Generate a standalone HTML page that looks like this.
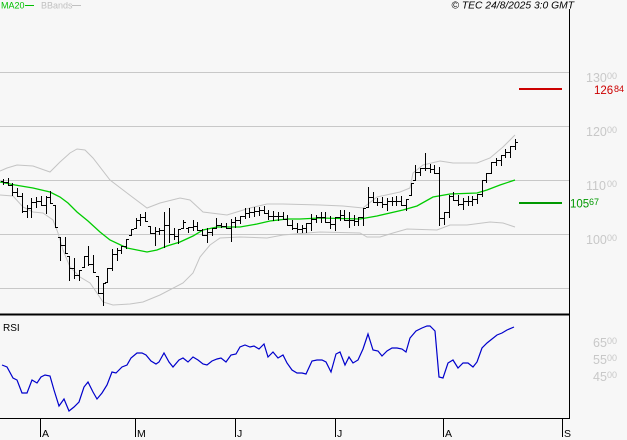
<!DOCTYPE html>
<html><head><meta charset="utf-8"><style>
html,body{margin:0;padding:0;background:#f7f7f7;}
svg{display:block;}
text{font-family:"Liberation Sans",sans-serif;}
</style></head><body>
<svg width="627" height="440" viewBox="0 0 627 440" xmlns="http://www.w3.org/2000/svg">
<rect x="0" y="0" width="627" height="440" fill="#f7f7f7"/>
<text x="1" y="8.5" font-size="9" fill="#00c000">MA20</text>
<line x1="25" y1="5.5" x2="34" y2="5.5" stroke="#00c000" stroke-width="1"/>
<text x="41" y="8.5" font-size="9" fill="#c0c0c0">BBands</text>
<line x1="72" y1="5.5" x2="81" y2="5.5" stroke="#c0c0c0" stroke-width="1"/>
<text x="574" y="8.5" font-size="10.3" font-style="italic" fill="#000" text-anchor="end">© TEC 24/8/2025 3:0 GMT</text>
<g stroke="#c8c8c8" stroke-width="1">
<line x1="0" y1="72.5" x2="569" y2="72.5"/>
<line x1="0" y1="126.5" x2="569" y2="126.5"/>
<line x1="0" y1="180.5" x2="569" y2="180.5"/>
<line x1="0" y1="234.5" x2="569" y2="234.5"/>
<line x1="0" y1="288.5" x2="569" y2="288.5"/>
</g>
<g fill="none" stroke="#c4c4c4" stroke-width="1">
<polyline points="0,171 7,168 17,165 33,166 50,172 60,162 70,153 77,149 85,150 93,158 110,180 127,193 147,208 160,203 180,198 190,200 203,212 227,215 250,208 267,204 283,204 320,205 343,206 363,208 377,197 400,192 410,188 413,173 423,165 440,161 453,163 477,163 490,158 503,147 515,135"/>
<polyline points="0,195 13,196 23,207 33,212 43,213 53,220 58,233 63,250 70,267 80,277 90,283 97,293 103,302 113,305 130,304 143,302 160,295 183,283 193,273 200,257 210,245 220,238 240,237 267,238 283,235 307,233 320,232 360,233 367,237 380,237 393,233 407,229 437,230 450,225 467,225 490,222 503,223 515,227"/>
</g>
<polyline fill="none" stroke="#00cc00" stroke-width="1.3" points="0,182 15,185 33,188 50,192 60,197 68,203 77,212 88,221 100,232 110,240 127,248 147,252 157,250 167,246 180,242 193,236 203,230 217,227 240,227 257,224 270,221 287,219 300,219 320,218 360,219 377,216 403,210 417,206 433,197 450,194 477,193 487,190 500,185 515,180"/>
<path fill="none" stroke="#000" stroke-width="1" d="M3.5 179V185M1 181.5h2M4 182.5h2M8.5 178V186M6 182.5h2M9 185.5h2M12.5 183V196M10 185.5h2M13 192.5h2M17.5 188V197M15 192.5h2M18 196.5h2M22.5 193V213M20 196.5h2M23 211.5h2M27.5 205V218M25 211.5h2M28 208.5h2M31.5 198V218M29 208.5h2M32 202.5h2M36.5 197V208M34 202.5h2M37 201.5h2M41.5 196V206M39 201.5h2M42 205.5h2M46.5 196V214M44 205.5h2M47 197.5h2M50.5 191V204M48 197.5h2M51 203.5h2M55.5 205V228M53 205.5h2M56 227.5h2M60.5 237V261M58 237.5h2M61 245.5h2M65.5 237V254M63 245.5h2M66 253.5h2M69.5 256V281M67 256.5h2M70 268.5h2M74.5 258V279M72 268.5h2M75 275.5h2M79.5 270V281M77 275.5h2M80 270.5h2M84.5 256V268M82 267.5h2M85 256.5h2M88.5 246V266M86 256.5h2M89 264.5h2M93.5 255V273M91 264.5h2M94 272.5h2M98.5 276V294M96 276.5h2M99 293.5h2M103.5 283V306M101 293.5h2M104 283.5h2M107.5 268V283M105 282.5h2M108 268.5h2M112.5 249V271M110 268.5h2M113 254.5h2M117.5 248V261M115 254.5h2M118 250.5h2M121.5 246V254M119 250.5h2M122 246.5h2M126.5 239V249M124 246.5h2M127 239.5h2M131.5 229V236M129 235.5h2M132 229.5h2M136.5 218V229M134 228.5h2M137 220.5h2M140.5 214V226M138 220.5h2M141 217.5h2M145.5 212V222M143 217.5h2M146 221.5h2M150.5 226V234M148 226.5h2M151 233.5h2M155.5 227V246M153 233.5h2M156 231.5h2M159.5 228V235M157 231.5h2M160 230.5h2M164.5 212V248M162 230.5h2M165 225.5h2M169.5 208V243M167 225.5h2M170 234.5h2M174.5 228V240M172 234.5h2M175 236.5h2M178.5 229V244M176 236.5h2M179 229.5h2M183.5 220V229M181 228.5h2M184 222.5h2M188.5 227V233M186 228.5h2M189 227.5h2M193.5 220V231M191 227.5h2M194 226.5h2M197.5 222V231M195 226.5h2M198 230.5h2M202.5 229V236M200 230.5h2M203 235.5h2M207.5 228V243M205 235.5h2M208 232.5h2M212.5 228V236M210 232.5h2M213 228.5h2M216.5 218V229M214 228.5h2M217 225.5h2M221.5 223V228M219 225.5h2M222 226.5h2M226.5 223V229M224 226.5h2M227 228.5h2M231.5 219V242M229 228.5h2M232 222.5h2M235.5 217V228M233 222.5h2M236 220.5h2M240.5 216V224M238 220.5h2M241 216.5h2M245.5 208V219M243 216.5h2M246 213.5h2M249.5 208V218M247 213.5h2M250 212.5h2M254.5 207V217M252 212.5h2M255 211.5h2M259.5 207V216M257 211.5h2M260 210.5h2M264.5 206V214M262 210.5h2M265 213.5h2M268.5 210V220M266 213.5h2M269 216.5h2M273.5 211V221M271 216.5h2M274 216.5h2M278.5 212V221M276 216.5h2M279 216.5h2M283.5 212V220M281 216.5h2M284 219.5h2M287.5 215V226M285 219.5h2M288 225.5h2M292.5 220V230M290 225.5h2M293 228.5h2M297.5 223V233M295 228.5h2M298 229.5h2M302.5 225V233M300 229.5h2M303 228.5h2M306.5 223V233M304 228.5h2M307 223.5h2M311.5 214V231M309 223.5h2M312 219.5h2M316.5 215V223M314 219.5h2M317 217.5h2M321.5 212V223M319 217.5h2M322 217.5h2M325.5 212V223M323 217.5h2M326 222.5h2M330.5 216V229M328 222.5h2M331 224.5h2M335.5 217V231M333 224.5h2M336 217.5h2M340.5 210V221M338 217.5h2M341 215.5h2M344.5 210V221M342 215.5h2M345 220.5h2M349.5 212V228M347 220.5h2M350 220.5h2M354.5 215V226M352 220.5h2M355 221.5h2M358.5 217V226M356 221.5h2M359 217.5h2M363.5 208V226M361 217.5h2M364 208.5h2M368.5 187V208M366 207.5h2M369 197.5h2M373.5 192V203M371 197.5h2M374 202.5h2M377.5 198V206M375 202.5h2M378 202.5h2M382.5 197V208M380 202.5h2M383 204.5h2M387.5 198V211M385 204.5h2M388 201.5h2M392.5 197V206M390 201.5h2M393 201.5h2M396.5 196V206M394 201.5h2M397 201.5h2M401.5 196V206M399 201.5h2M402 205.5h2M406.5 199V211M404 205.5h2M407 199.5h2M411.5 183V196M409 195.5h2M412 183.5h2M415.5 165V181M413 180.5h2M416 172.5h2M420.5 168V176M418 172.5h2M421 168.5h2M425.5 153V171M423 168.5h2M426 168.5h2M430.5 164V173M428 168.5h2M431 169.5h2M434.5 165V174M432 169.5h2M435 173.5h2M439.5 167V226M437 173.5h2M440 218.5h2M444.5 212V225M442 218.5h2M445 212.5h2M449.5 195V218M447 212.5h2M450 196.5h2M453.5 192V201M451 196.5h2M454 200.5h2M458.5 195V206M456 200.5h2M459 204.5h2M463.5 198V210M461 204.5h2M464 201.5h2M468.5 196V206M466 201.5h2M469 201.5h2M472.5 196V206M470 201.5h2M473 199.5h2M477.5 194V204M475 199.5h2M478 194.5h2M482.5 180V197M480 194.5h2M483 180.5h2M486.5 173V183M484 180.5h2M487 173.5h2M491.5 162V174M489 173.5h2M492 162.5h2M496.5 158V166M494 162.5h2M497 160.5h2M501.5 155V166M499 160.5h2M502 155.5h2M505.5 149V158M503 155.5h2M506 152.5h2M510.5 146V158M508 152.5h2M511 146.5h2M515.5 139V150M513 146.5h2M516 142.5h2"/>
<rect x="519" y="88" width="43" height="2" fill="#cc0000"/>
<rect x="519" y="202" width="43" height="2" fill="#009900"/>
<rect x="0" y="313.5" width="570" height="2" fill="#000"/>
<line x1="0" y1="418.5" x2="570" y2="418.5" stroke="#000" stroke-width="1"/>
<line x1="569.5" y1="9" x2="569.5" y2="419" stroke="#000" stroke-width="1"/>
<g fill="#c8c8c8">
<text x="586" y="82" font-size="12.5">130</text><text x="607" y="79" font-size="9">00</text>
<text x="586" y="136" font-size="12.5">120</text><text x="607" y="133" font-size="9">00</text>
<text x="586" y="190" font-size="12.5">110</text><text x="607" y="187" font-size="9">00</text>
<text x="586" y="244" font-size="12.5">100</text><text x="607" y="241" font-size="9">00</text>
</g>
<text x="594" y="94" font-size="11.5" fill="#cc0000">126</text><text x="614" y="92" font-size="9" fill="#cc0000">84</text>
<text x="570" y="207.5" font-size="11.5" fill="#009900">105</text><text x="589" y="205" font-size="9" fill="#009900">67</text>
<text x="3" y="331" font-size="10" fill="#000">RSI</text>
<polyline fill="none" stroke="#0000cc" stroke-width="1.2" points="2,365 7,367 13,378 17,380 22,393 27,393 32,380 37,383 41,377 45,375 50,376 54,390 59,406 64,399 69,411 74,407 79,402 84,387 88,382 93,392 97,399 102,393 107,385 112,372 116,373 122,367 127,365 131,358 137,353 142,353 146,355 151,361 156,364 159,362 164,353 169,362 173,367 179,360 183,358 188,362 193,357 198,360 203,364 207,365 212,361 217,359 221,358 226,362 231,355 236,354 240,347 245,345 250,347 254,346 259,349 264,344 268,357 273,352 278,358 283,355 287,363 292,370 297,373 302,373 306,374 312,361 317,360 322,360 326,362 331,372 336,354 340,352 345,365 349,357 353,363 358,360 363,349 368,334 373,350 378,351 382,356 387,351 392,348 397,348 402,349 406,352 410,338 416,331 422,328 427,326 430,326 435,331 439,377 443,378 448,363 453,360 458,368 463,363 468,363 473,367 477,362 482,348 487,343 492,339 497,335 502,333 507,330 514,327"/>
<g fill="#c8c8c8">
<text x="593" y="347" font-size="12.5">65</text><text x="607" y="344" font-size="9">00</text>
<text x="593" y="364" font-size="12.5">55</text><text x="607" y="361" font-size="9">00</text>
<text x="593" y="381" font-size="12.5">45</text><text x="607" y="378" font-size="9">00</text>
</g>
<g stroke="#000" stroke-width="1">
<line x1="40.5" y1="419" x2="40.5" y2="437"/>
<line x1="135.5" y1="419" x2="135.5" y2="437"/>
<line x1="235.5" y1="419" x2="235.5" y2="437"/>
<line x1="335.5" y1="419" x2="335.5" y2="437"/>
<line x1="443.5" y1="419" x2="443.5" y2="437"/>
<line x1="562.5" y1="419" x2="562.5" y2="437"/>
</g>
<g fill="#000" font-size="10.5">
<text x="42" y="437">A</text>
<text x="137" y="437">M</text>
<text x="237" y="437">J</text>
<text x="337" y="437">J</text>
<text x="445" y="437">A</text>
<text x="564" y="437">S</text>
</g>
</svg>
</body></html>
